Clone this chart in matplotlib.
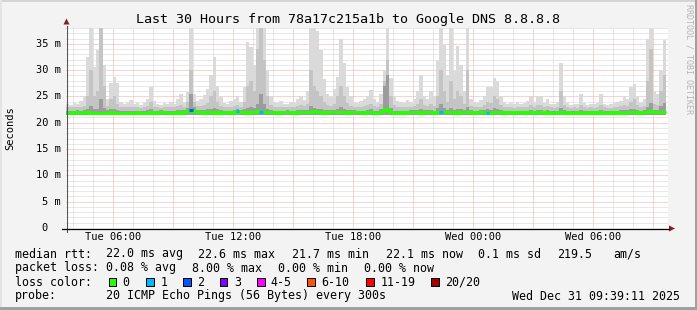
from datetime import datetime, timedelta

import matplotlib
matplotlib.use("Agg")
import matplotlib.dates as mdates
import matplotlib.transforms as mtransforms
from matplotlib import pyplot as plt
from matplotlib.patches import Rectangle, Polygon

W, H = 697, 310

T_END = datetime(2025, 12, 31, 9, 39, 11)
T_START = T_END - timedelta(hours=30)
STEP_MIN = 10

# top of the smoke (slowest pings), per 10 minute bin
smoke_max = [
    23.6, 23.4, 23.8, 23.5, 24.2, 25.0, 32.5, 40.0, 30.5, 33.8,
    40.0, 31.0, 24.5, 27.5, 28.7, 27.6, 24.0, 23.6, 23.8, 24.3,
    23.5, 23.7, 23.4, 24.0, 24.5, 26.8, 24.2, 23.6, 23.4, 23.8,
    23.5, 24.0, 23.6, 24.5, 25.5, 24.0, 25.8, 40.0, 25.5, 24.2,
    24.5, 25.2, 26.5, 29.0, 32.5, 27.0, 24.8, 23.8, 23.6, 24.2,
    24.5, 25.0, 24.0, 26.8, 35.4, 34.4, 31.0, 40.0, 40.0, 40.0,
    30.0, 25.0, 24.0, 23.8, 24.2, 23.6, 23.5, 24.0, 23.7, 24.6,
    25.0, 24.4, 26.0, 40.0, 40.0, 37.5, 33.8, 28.3, 25.5, 24.8,
    26.5, 28.7, 36.0, 31.3, 26.8, 25.0, 24.0, 23.8, 24.2, 24.5,
    25.0, 26.2, 24.5, 24.0, 25.5, 30.0, 40.0, 28.5, 25.0, 24.2,
    24.0, 23.8, 24.3, 23.9, 24.6, 26.0, 29.0, 25.0, 24.5, 26.0,
    24.8, 32.0, 40.0, 34.8, 29.0, 40.0, 30.0, 34.5, 31.0, 26.0,
    40.0, 24.5, 24.0, 23.8, 24.4, 25.0, 26.8, 26.8, 28.5, 28.0,
    25.0, 24.0, 23.6, 23.8, 23.5, 24.0, 23.6, 23.8, 24.2, 25.0,
    24.0, 25.0, 25.0, 23.8, 24.5, 23.6, 23.5, 24.0, 31.3, 25.0,
    23.8, 23.4, 23.6, 23.5, 25.5, 23.8, 23.4, 23.6, 23.5, 23.8,
    25.5, 23.6, 23.4, 23.5, 23.8, 24.0, 24.2, 25.0, 24.5, 26.8,
    27.4, 25.0, 24.0, 24.5, 36.0, 40.0, 26.0, 25.5, 30.0, 35.7,
]

# inner, darker part of the smoke
smoke_mid = [
    22.9, 22.9, 23.0, 22.9, 23.0, 23.2, 25.0, 30.0, 25.0, 26.0,
    40.0, 27.0, 23.2, 24.5, 25.0, 23.5, 23.0, 22.9, 22.9, 23.0,
    22.9, 22.9, 22.8, 23.0, 23.1, 24.0, 23.0, 22.9, 22.8, 22.9,
    22.9, 23.0, 22.9, 23.1, 23.3, 23.0, 24.0, 30.0, 24.0, 23.1,
    23.2, 23.4, 23.8, 25.0, 26.0, 24.0, 23.2, 22.9, 22.9, 23.0,
    23.1, 23.3, 23.0, 24.0, 27.0, 28.0, 26.0, 34.0, 40.0, 32.0,
    25.0, 23.3, 23.0, 22.9, 23.0, 22.9, 22.9, 23.0, 22.9, 23.2,
    23.3, 23.1, 23.6, 30.0, 27.0, 26.0, 25.0, 24.0, 23.3, 23.2,
    23.6, 25.0, 27.0, 25.0, 23.8, 23.2, 23.0, 22.9, 23.0, 23.1,
    23.3, 23.6, 23.1, 23.0, 23.6, 28.0, 32.0, 25.0, 23.4, 23.0,
    23.0, 22.9, 23.0, 22.9, 23.1, 23.6, 24.5, 23.4, 23.1, 23.6,
    23.2, 25.0, 30.0, 26.0, 24.0, 28.0, 24.5, 26.0, 25.0, 23.6,
    30.0, 23.1, 23.0, 22.9, 23.0, 23.3, 24.0, 23.8, 25.0, 24.5,
    23.3, 23.0, 22.9, 22.9, 22.8, 23.0, 22.9, 22.9, 23.0, 23.3,
    23.0, 23.3, 23.3, 22.9, 23.1, 22.9, 22.8, 23.0, 26.0, 23.3,
    22.9, 22.8, 22.9, 22.8, 23.4, 22.9, 22.8, 22.9, 22.8, 22.9,
    23.4, 22.9, 22.8, 22.8, 22.9, 23.0, 23.1, 23.3, 23.2, 24.0,
    24.5, 23.3, 23.0, 23.2, 28.0, 34.0, 23.6, 23.4, 26.0, 29.0,
]

# darkest core of the smoke around the median
smoke_core = [
    22.3, 22.3, 22.3, 22.4, 22.3, 22.4, 22.6, 23.2, 22.6, 22.7,
    24.5, 22.8, 22.4, 22.6, 22.7, 22.5, 22.3, 22.3, 22.3, 22.3,
    22.3, 22.3, 22.3, 22.3, 22.4, 22.6, 22.3, 22.3, 22.4, 22.3,
    22.3, 22.3, 22.3, 22.4, 22.5, 22.4, 22.8, 25.5, 22.9, 22.4,
    22.4, 22.5, 22.6, 22.7, 22.8, 22.6, 22.4, 22.3, 22.3, 22.3,
    22.4, 22.7, 22.4, 22.6, 22.8, 23.0, 22.8, 23.6, 25.5, 23.6,
    22.6, 22.4, 22.3, 22.3, 22.3, 22.3, 22.4, 22.3, 22.3, 22.4,
    22.5, 22.4, 22.5, 23.2, 22.8, 22.7, 22.6, 22.5, 22.4, 22.4,
    22.5, 22.6, 23.0, 22.7, 22.5, 22.4, 22.4, 22.3, 22.3, 22.3,
    22.4, 22.6, 22.3, 22.3, 22.6, 27.0, 29.0, 22.8, 22.3, 22.3,
    22.3, 22.3, 22.3, 22.4, 22.4, 22.5, 22.6, 22.4, 22.4, 22.5,
    22.3, 22.8, 23.6, 22.8, 22.5, 22.8, 22.5, 22.6, 22.6, 22.4,
    23.0, 22.4, 22.3, 22.3, 22.4, 22.5, 22.6, 22.5, 22.8, 22.7,
    22.4, 22.3, 22.3, 22.3, 22.3, 22.3, 22.3, 22.3, 22.3, 22.4,
    22.3, 22.4, 22.4, 22.3, 22.4, 22.3, 22.3, 22.3, 22.8, 22.4,
    22.3, 22.2, 22.3, 22.3, 22.5, 22.3, 22.3, 22.3, 22.3, 22.3,
    22.5, 22.3, 22.3, 22.3, 22.3, 22.3, 22.4, 22.5, 22.4, 22.6,
    22.7, 22.5, 22.3, 22.4, 23.0, 23.8, 22.5, 22.5, 23.2, 23.8,
]

# median rtt (ms)
median = [
    22.0, 21.9, 22.0, 22.1, 21.9, 22.0, 22.1, 21.9, 21.8, 21.9,
    21.8, 21.9, 21.9, 22.0, 21.9, 21.8, 21.8, 21.9, 21.9, 21.8,
    21.9, 22.0, 21.9, 21.8, 21.9, 22.0, 21.9, 21.9, 22.1, 22.0,
    21.9, 21.8, 21.9, 22.0, 21.9, 22.0, 22.2, 22.5, 22.3, 22.0,
    22.0, 21.9, 22.1, 22.0, 21.9, 22.0, 21.9, 22.0, 22.1, 21.9,
    22.0, 22.3, 22.1, 22.0, 21.9, 22.0, 22.1, 22.2, 22.1, 22.0,
    22.0, 22.1, 22.0, 21.9, 22.0, 22.0, 22.1, 22.0, 21.9, 22.0,
    22.1, 22.0, 22.0, 22.1, 22.2, 22.1, 22.0, 21.9, 22.0, 22.1,
    22.0, 22.0, 22.1, 22.0, 21.9, 22.0, 22.1, 22.0, 22.0, 21.9,
    22.0, 22.1, 21.9, 21.8, 22.0, 22.4, 22.6, 22.1, 21.8, 21.9,
    22.0, 21.9, 22.0, 22.1, 22.0, 22.0, 21.9, 22.0, 22.1, 22.0,
    21.9, 22.0, 22.1, 22.0, 22.0, 22.1, 22.0, 21.9, 22.0, 22.0,
    22.1, 22.0, 21.9, 22.0, 22.0, 22.1, 21.9, 21.9, 22.0, 22.0,
    22.0, 21.9, 22.0, 22.0, 21.9, 22.0, 22.0, 21.9, 22.0, 22.0,
    21.9, 22.0, 22.0, 21.9, 22.0, 21.9, 21.9, 22.0, 22.0, 21.9,
    22.0, 21.8, 21.9, 22.0, 21.9, 21.9, 22.0, 21.9, 22.0, 21.9,
    22.0, 21.9, 21.9, 22.0, 21.9, 22.0, 21.9, 21.9, 22.0, 22.0,
    22.1, 22.0, 21.9, 22.0, 22.1, 22.2, 22.0, 22.0, 22.1, 22.1,
]
SMOKE_FLOOR = 21.5

# bins where the median was drawn with a loss colour
loss_bins = [37, 51, 58, 112, 126]
loss_counts = [2, 1, 1, 1, 1]

loss_labels = ["0", "1", "2", "3", "4-5", "6-10", "11-19", "20/20"]
loss_colors = ["#26ff00", "#00b8ff", "#0059ff", "#7e00ff",
               "#ff00ff", "#ff5500", "#ff0000", "#a00000"]

y_ticks = [0, 5, 10, 15, 20, 25, 30, 35]
Y_MAX = 38

plt.rcParams["font.family"] = "DejaVu Sans Mono"


def fx(x):
    return x / W


def fy(y):
    return 1 - y / H


fig = plt.figure(figsize=(W / 100, H / 100), dpi=100, facecolor="#f3f3f3")

# plot canvas: x 66..668, y 28..228
ax = fig.add_axes([fx(66), fy(228), 602 / W, 200 / H], facecolor="white")
for s in ax.spines.values():
    s.set_visible(False)
ax.set_xticks([])
ax.set_yticks([])

edges = [mdates.date2num(T_START + timedelta(minutes=STEP_MIN * i)) for i in range(len(median) + 1)]
x0 = edges[0]
x1 = x0 + 602 / 20 / 24  # 20 px per hour
ax.set_xlim(x0, x1)
ax.set_ylim(0, Y_MAX)

# grid
hour = T_START.replace(minute=0, second=0) + timedelta(hours=1)
while hour <= T_END:
    xv = mdates.date2num(hour)
    if hour.hour % 3 == 0:
        ax.axvline(xv, color="#f4a6a6", lw=0.72, ls=(0, (1, 1)), zorder=1)
    else:
        ax.axvline(xv, color="#d2d2d2", lw=0.72, ls=(0, (1, 1)), zorder=1)
    hour += timedelta(hours=1)
for v in range(1, Y_MAX + 1):
    if v % 5 == 0:
        ax.axhline(v, color="#f4a6a6", lw=0.72, ls=(0, (1, 1)), zorder=1)
    else:
        ax.axhline(v, color="#d2d2d2", lw=0.72, ls=(0, (1, 1)), zorder=1)

# smoke
ax.stairs(smoke_max, edges, baseline=SMOKE_FLOOR, fill=True, color="#dadada", lw=0, zorder=2)
ax.stairs(smoke_mid, edges, baseline=SMOKE_FLOOR, fill=True, color="#c4c4c4", lw=0, zorder=3)
ax.stairs(smoke_core, edges, baseline=SMOKE_FLOOR, fill=True, color="#9c9c9c", lw=0, zorder=4)

# median line
ax.stairs(median, edges, baseline=None, color=loss_colors[0], lw=2.2, zorder=5)
for b, n in zip(loss_bins, loss_counts):
    ax.hlines(median[b], edges[b], edges[b + 1], color=loss_colors[n], lw=2.2, zorder=6)

# axes lines and arrows
fig.add_artist(plt.Line2D([fx(66.5), fx(66.5)], [fy(232), fy(26)], color="#555555", lw=0.8))
fig.add_artist(plt.Line2D([fx(62), fx(669)], [fy(228.5), fy(228.5)], color="black", lw=0.9))
fig.add_artist(Polygon([[fx(63.5), fy(24.5)], [fx(69.5), fy(24.5)], [fx(66.5), fy(18.5)]],
                       closed=True, color="#8b1a1a", lw=0))
fig.add_artist(Polygon([[fx(669), fy(225.5)], [fx(669), fy(231.5)], [fx(675), fy(228.5)]],
                       closed=True, color="#8b1a1a", lw=0))

# tick labels
tick_hour = T_START.replace(minute=0, second=0) + timedelta(hours=1)
trans_x = mtransforms.blended_transform_factory(ax.transData, fig.transFigure)
while tick_hour <= T_END:
    if tick_hour.hour % 6 == 0:
        ax.text(mdates.date2num(tick_hour), fy(237.5), tick_hour.strftime("%a %H:%M"),
                transform=trans_x, ha="center", va="center", fontsize=7.5)
    tick_hour += timedelta(hours=1)

trans_y = mtransforms.blended_transform_factory(fig.transFigure, ax.transData)
for v in y_ticks:
    if v == 0:
        ax.text(fx(44.5), v, "0", transform=trans_y, ha="center", va="center", fontsize=7.5)
    else:
        ax.text(fx(60.5), v, f"{v} m", transform=trans_y, ha="right", va="center", fontsize=7.5)

fig.text(fx(10), fy(128), "Seconds", rotation=90, ha="center", va="center", fontsize=7.5)
fig.text(fx(348), fy(19), "Last 30 Hours from 78a17c215a1b to Google DNS 8.8.8.8",
         ha="center", va="center", fontsize=9.6)
fig.text(fx(688.5), fy(59), "RRDTOOL / TOBI OETIKER", rotation=270,
         ha="center", va="center", fontsize=6.0, color="#b4b4b4")

# legend
LEG = 8.4
rows = [
    (254, [(16, "median rtt:"), (107, "22.0 ms avg"), (199, "22.6 ms max"),
           (293, "21.7 ms min"), (386.5, "22.1 ms now"), (479, "0.1 ms sd"),
           (558, "219.5"), (614, "am/s")]),
    (268, [(16, "packet loss:"), (107, "0.08 % avg"), (193, "8.00 % max"),
           (279, "0.00 % min"), (365, "0.00 % now")]),
    (282, [(16, "loss color:")]),
    (296, [(16, "probe:"), (107, "20 ICMP Echo Pings (56 Bytes) every 300s")]),
]
for y, items in rows:
    for x, s in items:
        fig.text(fx(x - 0.8), fy(y), s, ha="left", va="center", fontsize=LEG)

box_x = [108.5, 146, 183, 219.5, 257, 307, 366, 431]
label_x = [123, 161, 198, 235, 271.5, 322.5, 381, 446]
for bx, lx, lab, col in zip(box_x, label_x, loss_labels, loss_colors):
    fig.add_artist(Rectangle((fx(bx), fy(285.5)), 7.5 / W, 8 / H, facecolor=col,
                             edgecolor="black", lw=0.72))
    fig.text(fx(lx - 0.8), fy(282), lab, ha="left", va="center", fontsize=LEG)

fig.text(fx(680.5), fy(296), T_END.strftime("%a %b %d %H:%M:%S %Y"), ha="right", va="center", fontsize=LEG)

# frame
fig.add_artist(Rectangle((0, fy(2)), 1, 2 / H, facecolor="#d4d4d4", lw=0))
fig.add_artist(Rectangle((0, 0), 2 / W, 1, facecolor="#e4e4e4", lw=0))
fig.add_artist(Rectangle((0, 0), 1, 3 / H, facecolor="#a0a0a0", lw=0))
fig.add_artist(Rectangle((fx(695), 0), 2 / W, 1, facecolor="#a0a0a0", lw=0))

fig.savefig("out.png", dpi=100, facecolor=fig.get_facecolor())
